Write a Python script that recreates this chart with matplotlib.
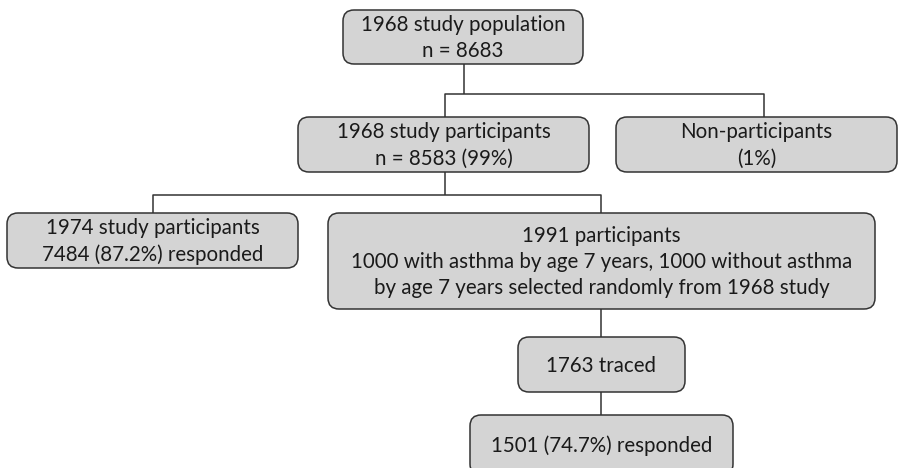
import matplotlib.pyplot as plt
from matplotlib.patches import FancyBboxPatch

# box labels
labels = [
    "1968 study population\nn = 8683",
    "1968 study participants\nn = 8583 (99%)",
    "Non-participants\n(1%)",
    "1974 study participants\n7484 (87.2%) responded",
    "1991 participants\n1000 with asthma by age 7 years, 1000 without asthma\nby age 7 years selected randomly from 1968 study",
    "1763 traced",
    "1501 (74.7%) responded",
]

# box layout in pixels: left, top, right, bottom
boxes = [
    (343, 10, 583, 64),
    (298, 117, 589, 172),
    (616, 117, 897, 172),
    (7, 213, 298, 268),
    (328, 213, 875, 309),
    (518, 337, 685, 392),
    (470, 415, 733, 475),
]

# connector polylines
lines = [
    [(464, 64), (464, 94)],
    [(445, 117), (445, 94), (764, 94), (764, 117)],
    [(445, 172), (445, 195)],
    [(153, 213), (153, 195), (601, 195), (601, 213)],
    [(601, 309), (601, 337)],
    [(601, 392), (601, 415)],
]

fig = plt.figure(figsize=(8.99, 4.68), dpi=100)
ax = fig.add_axes([0, 0, 1, 1])
ax.set_xlim(0, 899)
ax.set_ylim(468, 0)
ax.axis("off")

for pts in lines:
    xs = [p[0] for p in pts]
    ys = [p[1] for p in pts]
    ax.plot(xs, ys, color="#333333", lw=1.1, solid_capstyle="butt")

for (l, t, r, b), txt in zip(boxes, labels):
    patch = FancyBboxPatch((l, t), r - l, b - t,
                           boxstyle="round,pad=0,rounding_size=11",
                           facecolor="#d4d4d4", edgecolor="#333333", lw=1.1)
    ax.add_patch(patch)
    ax.text((l + r) / 2, (t + b) / 2 + 1, txt, ha="center", va="center",
            fontsize=14.8, family="Lato", color="#1a1a1a", linespacing=1.4)

fig.savefig("out.png", dpi=100)
